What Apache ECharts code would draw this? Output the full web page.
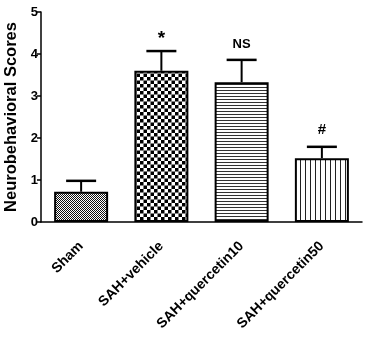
<!DOCTYPE html>
<html>
<head>
<meta charset="utf-8">
<script src="https://cdn.jsdelivr.net/npm/echarts@6/dist/echarts.min.js"></script>
<style>
  html, body { margin: 0; padding: 0; background: #fff; }
  #chart { width: 367px; height: 343px; }
</style>
</head>
<body>
<div id="chart"></div>
<script>
var categories = ['Sham', 'SAH+vehicle', 'SAH+quercetin10', 'SAH+quercetin50'];
var means = [0.72, 3.6, 3.33, 1.52];
var errors = [0.26, 0.47, 0.53, 0.27];
var marks = ['', '*', 'NS', '#'];
var patterns = ['fine', 'check', 'hlines', 'vlines'];

// small canvas tiles used as bar fill
function makePattern(kind) {
    var c = document.createElement('canvas');
    var ctx = c.getContext('2d');
    if (kind === 'fine') {
        c.width = 2; c.height = 2;
        ctx.fillStyle = '#fff'; ctx.fillRect(0, 0, 2, 2);
        ctx.fillStyle = '#111';
        ctx.fillRect(0, 0, 1, 1); ctx.fillRect(1, 1, 1, 1);
    } else if (kind === 'check') {
        c.width = 7; c.height = 7;
        ctx.fillStyle = '#fff'; ctx.fillRect(0, 0, 7, 7);
        ctx.fillStyle = '#000';
        ctx.fillRect(0, 0, 3.5, 3.5); ctx.fillRect(3.5, 3.5, 3.5, 3.5);
    } else if (kind === 'hlines') {
        c.width = 4; c.height = 3;
        ctx.fillStyle = '#fff'; ctx.fillRect(0, 0, 4, 3);
        ctx.fillStyle = '#333'; ctx.fillRect(0, 0, 4, 1);
    } else {
        c.width = 5; c.height = 4;
        ctx.fillStyle = '#fff'; ctx.fillRect(0, 0, 5, 4);
        ctx.fillStyle = '#222'; ctx.fillRect(0, 0, 1, 4);
    }
    return { image: c, repeat: 'repeat' };
}

var barData = means.map(function (v, i) {
    return { value: v, itemStyle: { color: makePattern(patterns[i]) } };
});
var errData = means.map(function (v, i) { return [i, v, errors[i], marks[i]]; });

var chart = echarts.init(document.getElementById('chart'));
var option = {
    animation: false,
    grid: { left: 41, right: 5, top: 12, bottom: 121, outerBoundsMode: 'none', containLabel: false },
    xAxis: {
        type: 'category',
        data: categories,
        axisLine: { lineStyle: { color: '#000', width: 1.5 } },
        axisTick: { alignWithLabel: true, length: 5, lineStyle: { color: '#000', width: 1.5 } },
        axisLabel: {
            rotate: 45, color: '#000', fontWeight: 'bold', fontSize: 14,
            fontFamily: 'Liberation Sans, Arial', margin: 22
        }
    },
    yAxis: {
        type: 'value',
        min: 0, max: 5, interval: 1,
        name: 'Neurobehavioral Scores',
        nameLocation: 'middle',
        nameGap: 18,
        nameTextStyle: { color: '#000', fontWeight: 'bold', fontSize: 16.5, fontFamily: 'Liberation Sans, Arial' },
        axisLine: { show: true, lineStyle: { color: '#000', width: 1.5 } },
        axisTick: { show: true, length: 4, lineStyle: { color: '#000', width: 1.5 } },
        axisLabel: { color: '#000', fontWeight: 'bold', fontSize: 13, fontFamily: 'Liberation Sans, Arial', margin: 3 },
        splitLine: { show: false }
    },
    series: [
        {
            type: 'bar',
            data: barData,
            barWidth: 54,
            itemStyle: { borderColor: '#000', borderWidth: 2 }
        },
        {
            type: 'custom',
            data: errData,
            z: 5,
            renderItem: function (params, api) {
                var x = api.value(0);
                var m = api.value(1);
                var e = api.value(2);
                var lab = errData[params.dataIndex][3];
                var p0 = api.coord([x, m]);
                var p1 = api.coord([x, m + e]);
                var hw = 15;
                var fs = lab === '*' ? 19 : (lab === 'NS' ? 13 : 15);
                return {
                    type: 'group',
                    children: [
                        { type: 'line', shape: { x1: p0[0], y1: p0[1], x2: p1[0], y2: p1[1] },
                          style: { stroke: '#000', lineWidth: 2 } },
                        { type: 'line', shape: { x1: p1[0] - hw, y1: p1[1], x2: p1[0] + hw, y2: p1[1] },
                          style: { stroke: '#000', lineWidth: 2.5 } },
                        { type: 'text', x: p1[0], y: p1[1] - (lab === '*' ? 3 : 9),
                          style: { text: lab, fill: '#000', align: 'center', verticalAlign: 'bottom',
                                   font: 'bold ' + fs + 'px Liberation Sans, Arial' } }
                    ]
                };
            }
        }
    ]
};
chart.setOption(option);
</script>
</body>
</html>
